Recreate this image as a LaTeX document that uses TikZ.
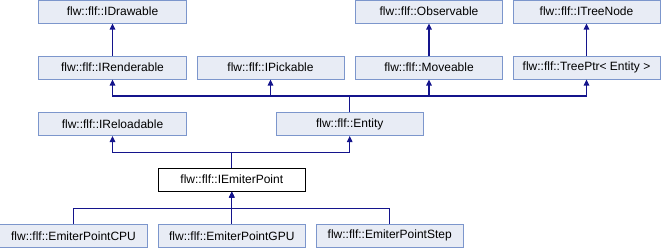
\documentclass[tikz,border=0pt]{standalone}
\usepackage{fontspec}
\setmainfont{Liberation Sans}
\usetikzlibrary{arrows.meta}
\definecolor{boxfill}{RGB}{232,236,245}
\definecolor{boxline}{RGB}{124,150,204}
\definecolor{edgecol}{RGB}{20,20,140}
\tikzset{
  cls/.style={draw=boxline, fill=boxfill, line width=1bp, minimum width=147bp, minimum height=23bp,
              inner sep=0pt, font=\fontsize{12bp}{14bp}\selectfont},
  curcls/.style={cls, draw=black, fill=white},
  inh/.style={draw=edgecol, line width=1.1bp, -{Triangle[length=6bp,width=5.5bp]}},
}
\begin{document}
\begin{tikzpicture}[x=1bp,y=-1bp]
  \useasboundingbox (0,0) rectangle (661,248);
  % top row
  \node[cls] (idrawable)  at (112.5,11.5) {flw::flf::IDrawable};
  \node[cls] (observable) at (429,11.5)   {flw::flf::Observable};
  \node[cls] (itreenode)  at (586.5,11.5) {flw::flf::ITreeNode};
  % second row
  \node[cls] (irenderable) at (112.5,67.5) {flw::flf::IRenderable};
  \node[cls] (ipickable)   at (270.5,67.5) {flw::flf::IPickable};
  \node[cls] (moveable)    at (429,67.5)   {flw::flf::Moveable};
  \node[cls] (treeptr)     at (586.5,67.5) {flw::flf::TreePtr< Entity >};
  % third row
  \node[cls] (ireloadable) at (112.5,124) {flw::flf::IReloadable};
  \node[cls] (entity)      at (349.7,124) {flw::flf::Entity};
  % the documented class
  \node[curcls] (iemiter) at (231.8,179.7) {flw::flf::IEmiterPoint};
  % derived classes
  \node[cls] (cpu)  at (73.5,235.8)  {flw::flf::EmiterPointCPU};
  \node[cls] (gpu)  at (231.8,235.8) {flw::flf::EmiterPointGPU};
  \node[cls] (step) at (389.7,235.8) {flw::flf::EmiterPointStep};

  % horizontal bus levels
  \coordinate (busA) at (0,96);
  \coordinate (busB) at (0,152.3);
  \coordinate (busC) at (0,208.3);

  % single-parent edges
  \draw[inh] (irenderable) -- (idrawable);
  \draw[inh] (moveable) -- (observable);
  \draw[inh] (treeptr) -- (itreenode);

  % Entity bases
  \draw[inh] (entity.north) -- (entity.north |- busA) -| (irenderable.south);
  \draw[inh] (entity.north) -- (entity.north |- busA) -| (ipickable.south);
  \draw[inh] (entity.north) -- (entity.north |- busA) -| (moveable.south);
  \draw[inh] (entity.north) -- (entity.north |- busA) -| (treeptr.south);

  % IEmiterPoint bases
  \draw[inh] (iemiter.north) -- (iemiter.north |- busB) -| (ireloadable.south);
  \draw[inh] (iemiter.north) -- (iemiter.north |- busB) -| (entity.south);

  % derived classes
  \draw[inh] (cpu.north) -- (cpu.north |- busC) -| (iemiter.south);
  \draw[inh] (gpu.north) -- (iemiter.south);
  \draw[inh] (step.north) -- (step.north |- busC) -| (iemiter.south);
\end{tikzpicture}
\end{document}
